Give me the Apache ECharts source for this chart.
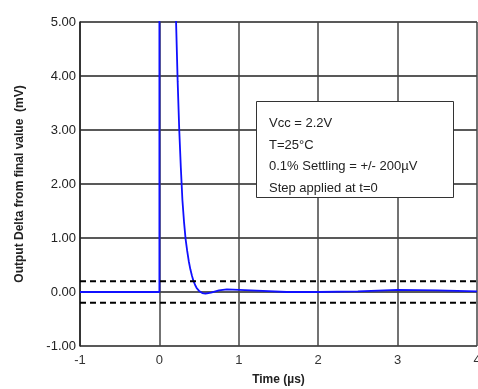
<!DOCTYPE html>
<html><head><meta charset="utf-8">
<script src="https://cdn.jsdelivr.net/npm/echarts@6/dist/echarts.min.js"></script>
<style>html,body{margin:0;padding:0;background:#fff}#c{width:478px;height:389px}</style>
</head><body><div id="c"></div>
<script>
const timeUs = [-1, -0.5, 0, 0, 0.1, 0.21, 0.23, 0.25, 0.27, 0.29, 0.31, 0.33, 0.35, 0.37, 0.39, 0.41, 0.43, 0.45, 0.47, 0.50, 0.54, 0.58, 0.65, 0.75, 0.85, 1.0, 1.3, 1.6, 2.0, 2.5, 3.0, 3.5, 4.0];
const deltaMv = [0, 0, 0, 8, 8, 5.0, 3.9, 3.0, 2.3, 1.7, 1.3, 0.98, 0.76, 0.57, 0.42, 0.3, 0.2, 0.13, 0.07, 0.02, -0.02, -0.03, -0.01, 0.03, 0.05, 0.04, 0.02, 0.0, 0.0, 0.01, 0.04, 0.03, 0.01];
const settleBand = [0.2, -0.2];
const xTicks = [-1, 0, 1, 2, 3, 4];
const yTicks = [-1, 0, 1, 2, 3, 4, 5];
const noteLines = ['Vcc = 2.2V', 'T=25°C', '0.1% Settling = +/- 200µV', 'Step applied at t=0'];

const chart = echarts.init(document.getElementById('c'));
const font = 'Liberation Sans, Arial, Helvetica, sans-serif';
const series = [
  {
    type: 'line', data: timeUs.map((t, i) => [t, deltaMv[i]]), symbol: 'none',
    lineStyle: { color: '#1010ff', width: 1.8 }, clip: true, z: 3
  }
].concat(settleBand.map(v => ({
  type: 'line', data: [[xTicks[0], v], [xTicks[xTicks.length - 1], v]], symbol: 'none',
  lineStyle: { color: '#000', width: 2, type: [6, 4] }, z: 4
})));

chart.setOption({
  animation: false,
  grid: { left: 80, right: 1, top: 22, bottom: 43, containLabel: false, outerBoundsMode: 'none' },
  xAxis: {
    type: 'value', min: xTicks[0], max: xTicks[xTicks.length - 1], interval: 1,
    name: 'Time (µs)', nameLocation: 'middle', nameGap: 28,
    nameTextStyle: { fontFamily: font, fontSize: 12, fontWeight: 'bold', color: '#222' },
    axisLine: { show: false },
    axisTick: { show: false },
    axisLabel: { fontFamily: font, fontSize: 13, color: '#333', margin: 8 },
    splitLine: { show: true, lineStyle: { color: '#444', width: 1.5 } }
  },
  yAxis: {
    type: 'value', min: yTicks[0], max: yTicks[yTicks.length - 1], interval: 1,
    name: 'Output Delta from final value  (mV)', nameLocation: 'middle', nameGap: 54,
    nameTextStyle: { fontFamily: font, fontSize: 12, fontWeight: 'bold', color: '#222' },
    axisLine: { show: true, onZero: false, lineStyle: { color: '#222', width: 1.5 } },
    axisTick: { show: false },
    axisLabel: { fontFamily: font, fontSize: 13, color: '#222', margin: 4, padding: [0, 0, 7, 0], formatter: v => v.toFixed(2) },
    splitLine: { show: true, lineStyle: { color: '#222', width: 1.5 } }
  },
  graphic: [
    { type: 'rect', left: 256, top: 101, shape: { width: 197, height: 96 }, style: { fill: '#fff', stroke: '#333', lineWidth: 1 }, z: 10 },
    { type: 'text', left: 269, top: 113, style: { text: noteLines.join('\n'), font: '13px ' + font, fill: '#222', lineHeight: 21.5 }, z: 11 }
  ],
  series: series
});
</script></body></html>
